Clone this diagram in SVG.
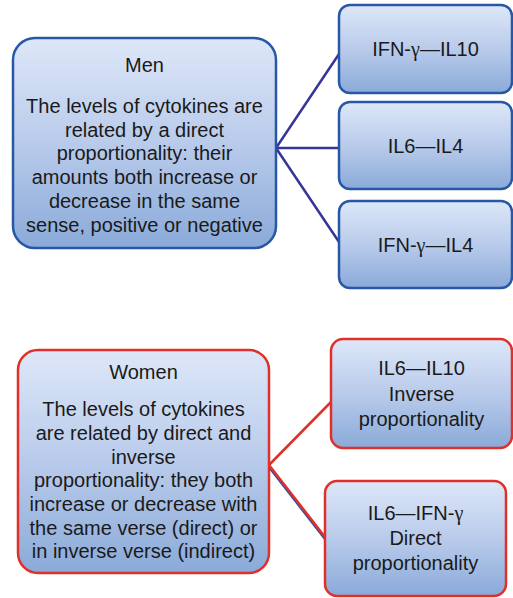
<svg xmlns="http://www.w3.org/2000/svg" width="513" height="598" viewBox="0 0 513 598">
<style>
text{font-family:"Liberation Sans",Arial,sans-serif;font-size:20px;fill:#1a1a1a;text-anchor:middle}
.g{font-family:"Liberation Serif","Times New Roman",serif}
.m{fill:url(#grad);stroke:#2857a6;stroke-width:2.5}
.w{fill:url(#grad);stroke:#e0302a;stroke-width:2.5}
.cm{stroke:#35359a;stroke-width:2.5;fill:none}
.cw{stroke:#e0302a;stroke-width:2.5;fill:none}
</style>
<defs>
<linearGradient id="grad" x1="0" y1="0" x2="0" y2="1">
<stop offset="0" stop-color="#dde7f8"/>
<stop offset="0.5" stop-color="#b9cbeb"/>
<stop offset="1" stop-color="#8aaad9"/>
</linearGradient>
</defs>
<g id="connectors">
<path class="cm" d="M276 148 L339 54 M276 148 L339 148 M276 148 L339 242"/>
<path d="M269 467 L325 539" stroke="#3a4ea0" stroke-width="2.5" fill="none"/>
<path class="cw" d="M269 465 L331 402 M269 465 L325 537"/>
</g>
<g id="men">
<rect class="m" x="13" y="38" width="263" height="210" rx="22"/>
<text x="144.5" y="72">Men</text>
<text x="144.5" y="112.7">The levels of cytokines are</text>
<text x="144.5" y="136.5">related by a direct</text>
<text x="144.5" y="160.3">proportionality: their</text>
<text x="144.5" y="184">amounts both increase or</text>
<text x="144.5" y="207.9">decrease in the same</text>
<text x="144.5" y="231.7">sense, positive or negative</text>
</g>
<g id="m1">
<rect class="m" x="339" y="5" width="173" height="88" rx="11"/>
<text x="425.5" y="56">IFN-<tspan class="g">γ</tspan>—IL10</text>
</g>
<g id="m2">
<rect class="m" x="339" y="102" width="173" height="87" rx="11"/>
<text x="425.5" y="152.7">IL6—IL4</text>
</g>
<g id="m3">
<rect class="m" x="339" y="201" width="173" height="87" rx="11"/>
<text x="425.5" y="251.7">IFN-<tspan class="g">γ</tspan>—IL4</text>
</g>
<g id="women">
<rect class="w" x="18" y="350" width="251" height="223" rx="20"/>
<text x="143.5" y="379.3">Women</text>
<text x="143.5" y="416">The levels of cytokines</text>
<text x="143.5" y="440">are related by direct and</text>
<text x="143.5" y="463.6">inverse</text>
<text x="143.5" y="487.3">proportionality: they both</text>
<text x="143.5" y="511">increase or decrease with</text>
<text x="143.5" y="535">the same verse (direct) or</text>
<text x="143.5" y="558.3">in inverse verse (indirect)</text>
</g>
<g id="w1">
<rect class="w" x="331" y="339" width="181" height="109" rx="12"/>
<text x="421.5" y="375">IL6—IL10</text>
<text x="421.5" y="400.7">Inverse</text>
<text x="421.5" y="426.4">proportionality</text>
</g>
<g id="w2">
<rect class="w" x="325" y="481" width="181" height="115" rx="12"/>
<text x="415.5" y="520">IL6—IFN-<tspan class="g">γ</tspan></text>
<text x="415.5" y="545">Direct</text>
<text x="415.5" y="570">proportionality</text>
</g>
</svg>
